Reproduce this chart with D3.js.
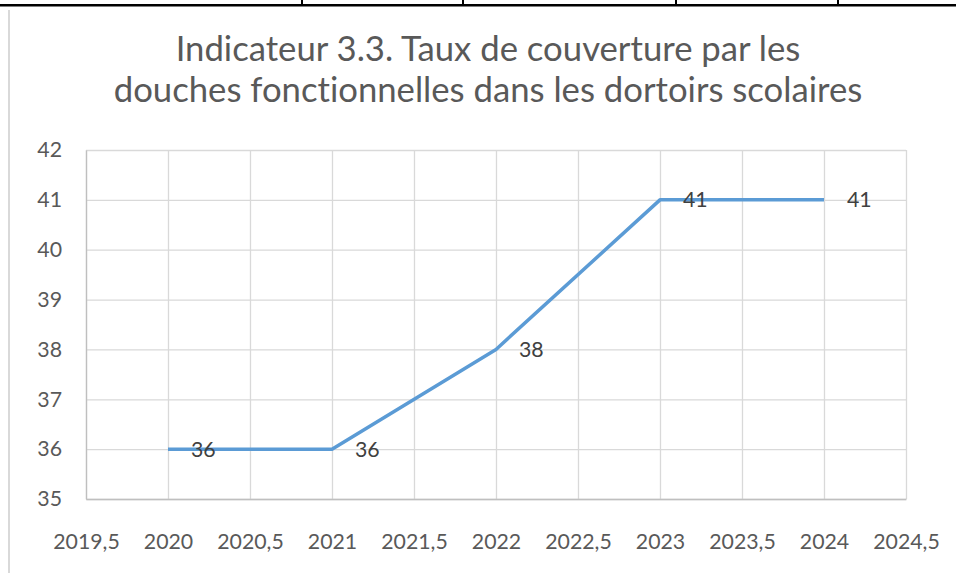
<!DOCTYPE html>
<html>
<head>
<meta charset="utf-8">
<script src="https://cdn.jsdelivr.net/npm/d3@7"></script>
<style>
  body { margin: 0; background: #fff; }
  svg { display: block; font-family: Lato, "Open Sans", sans-serif; font-variant-ligatures: none; }
</style>
</head>
<body>
<div class="chart"></div>
<script>
var years = [2020, 2021, 2022, 2023, 2024];
var values = [36, 36, 38, 41, 41];
var xTicks = [2019.5, 2020, 2020.5, 2021, 2021.5, 2022, 2022.5, 2023, 2023.5, 2024, 2024.5];
var yTicks = [35, 36, 37, 38, 39, 40, 41, 42];
var titleLines = ['Indicateur 3.3. Taux de couverture par les',
    'douches fonctionnelles dans les dortoirs scolaires'];
var tableCols = [302, 463, 676, 838];

var W = 956, H = 573;
var margin = {top: 150, right: 50, bottom: 74, left: 86};
var width = W - margin.left - margin.right;
var height = H - margin.top - margin.bottom;
var commaFormat = function(d) { return String(d).replace('.', ','); };
var tickFont = '21.3px';

var data = years.map(function(y, i) { return {year: y, value: values[i]}; });

var xScale = d3.scaleLinear().domain([2019.5, 2024.5]).range([0, width]);
var yScale = d3.scaleLinear().domain([35, 42]).range([height, 0]);

var svg = d3.select('.chart').append('svg')
    .attr('width', W)
    .attr('height', H);

// bits of the surrounding document table
svg.append('rect').attr('x', 0).attr('y', 4).attr('width', W).attr('height', 2.5).attr('fill', '#000');
svg.selectAll('.tcol').data(tableCols).enter().append('rect')
    .attr('x', d => d - 1).attr('y', 0).attr('width', 2).attr('height', 5).attr('fill', '#000');
svg.append('rect').attr('x', 8).attr('y', 10).attr('width', 2).attr('height', H - 10).attr('fill', '#d9d9d9');

// title
svg.append('text')
    .attr('text-anchor', 'middle')
    .attr('fill', '#595959')
    .style('font-size', '34.7px')
    .selectAll('tspan').data(titleLines).enter().append('tspan')
    .attr('x', 488)
    .attr('y', (d, i) => 61 + i * 41)
    .text(d => d);

var g = svg.append('g').attr('transform', `translate(${margin.left},${margin.top})`);

// gridlines
g.append('g')
    .attr('class', 'grid-y')
    .call(d3.axisLeft(yScale).tickValues(yTicks).tickSize(-width).tickFormat(''))
    .call(sel => sel.select('.domain').remove())
    .selectAll('line').attr('stroke', '#d9d9d9').attr('stroke-width', 1.3);

g.append('g')
    .attr('class', 'grid-x')
    .attr('transform', `translate(0,${height})`)
    .call(d3.axisBottom(xScale).tickValues(xTicks).tickSize(-height).tickFormat(''))
    .call(sel => sel.select('.domain').remove())
    .selectAll('line').attr('stroke', '#d9d9d9').attr('stroke-width', 1.3);

// axes
var yAxis = g.append('g')
    .call(d3.axisLeft(yScale).tickValues(yTicks).tickSize(0).tickPadding(24).tickFormat(d3.format('d')));
yAxis.select('.domain').attr('stroke', '#bfbfbf').attr('stroke-width', 1.3);
yAxis.selectAll('text').attr('fill', '#595959').style('font-size', tickFont).style('font-family', 'Lato');

var xAxis = g.append('g')
    .attr('transform', `translate(0,${height})`)
    .call(d3.axisBottom(xScale).tickValues(xTicks).tickSize(0).tickPadding(35).tickFormat(commaFormat));
xAxis.select('.domain').attr('stroke', '#bfbfbf').attr('stroke-width', 1.3);
xAxis.selectAll('text').attr('fill', '#595959').style('font-size', tickFont).style('font-family', 'Lato');

// line
var line = d3.line()
    .x(d => xScale(d.year))
    .y(d => yScale(d.value));

g.append('path')
    .datum(data)
    .attr('fill', 'none')
    .attr('stroke', '#5b9bd5')
    .attr('stroke-width', 3.5)
    .attr('stroke-linejoin', 'round')
    .attr('d', line);

// data labels
g.selectAll('.label').data(data).enter().append('text')
    .attr('class', 'label')
    .attr('x', d => xScale(d.year) + 23)
    .attr('y', d => yScale(d.value))
    .attr('dy', '0.35em')
    .attr('fill', '#404040')
    .style('font-size', tickFont)
    .text(d => d.value);
</script>
</body>
</html>
